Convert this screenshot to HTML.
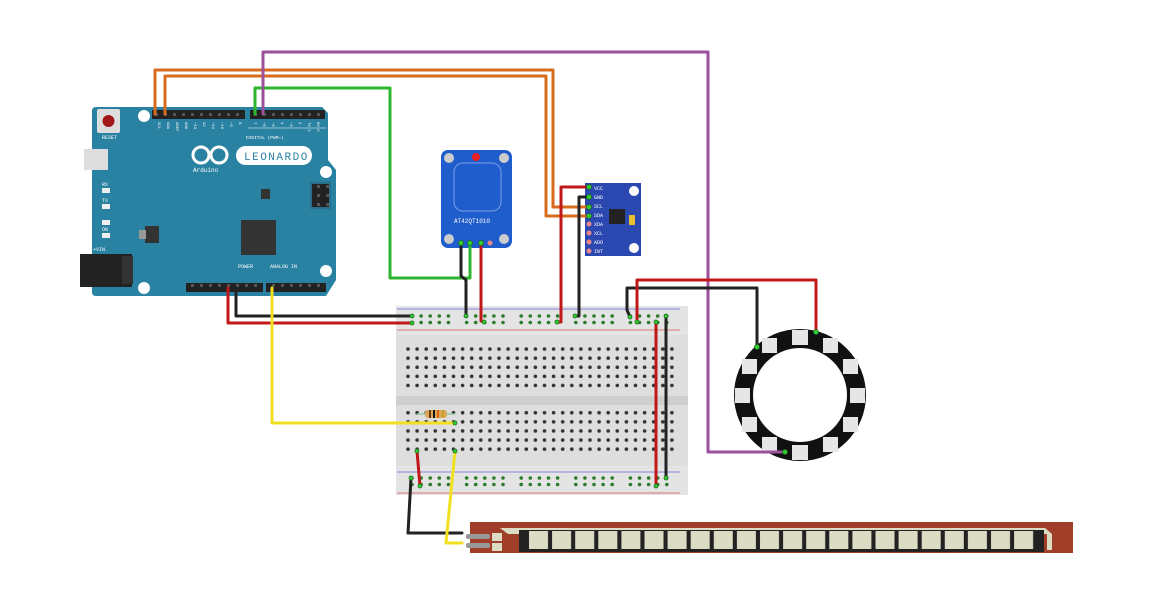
<!DOCTYPE html>
<html><head><meta charset="utf-8"><style>html,body{margin:0;padding:0;background:#fff}svg{display:block}</style></head><body>
<svg width="1158" height="606" viewBox="0 0 1158 606" xmlns="http://www.w3.org/2000/svg" font-family="Liberation Mono, monospace">
<defs>
<pattern id="holes" x="403.5" y="344.5" width="9.1" height="9.1" patternUnits="userSpaceOnUse"><circle cx="4.5" cy="4.5" r="1.8" fill="#333"/></pattern>
<pattern id="rail" x="407.5" y="311.5" width="9.1" height="6.5" patternUnits="userSpaceOnUse"><circle cx="4.5" cy="4.5" r="1.8" fill="#2a7a2a"/></pattern>
<pattern id="flex" x="527" y="530" width="23.1" height="22" patternUnits="userSpaceOnUse"><rect x="0" y="0" width="23.1" height="22" fill="#222"/><rect x="2" y="1" width="19" height="18" fill="#dcdcc4"/></pattern>
<pattern id="hdr" x="152" y="110" width="9" height="9" patternUnits="userSpaceOnUse"><rect width="9" height="9" fill="#222"/><rect x="3" y="3" width="3" height="3" fill="#555"/></pattern>
</defs>

<!-- Arduino board -->
<path d="M96 107 H322 L328 113 V160 L336 170 V280 L326 296 H96 Q92 296 92 292 V111 Q92 107 96 107Z" fill="#2a82a3"/>
<rect x="97" y="109" width="23" height="24" rx="2" fill="#ddd"/>
<circle cx="108.5" cy="121" r="6" fill="#a01818"/>
<text x="102" y="139" font-size="5" fill="#fff">RESET</text>
<rect x="84" y="149" width="24" height="21" fill="#ddd"/>
<rect x="80" y="254" width="52" height="33" fill="#222"/>
<rect x="122" y="256" width="11" height="28" fill="#333"/>
<circle cx="144" cy="116" r="6" fill="#fff"/><circle cx="144" cy="288" r="6" fill="#fff"/>
<circle cx="326" cy="172" r="6" fill="#fff"/><circle cx="326" cy="271" r="6" fill="#fff"/>
<rect x="152" y="110" width="93" height="9" fill="url(#hdr)"/>
<rect x="250" y="110" width="75" height="9" fill="url(#hdr)"/>
<rect x="186" y="283" width="77" height="9" fill="url(#hdr)"/>
<rect x="266" y="283" width="60" height="9" fill="url(#hdr)"/>
<rect x="310" y="182" width="21" height="27" fill="#2a6f8a"/>
<rect x="312" y="184" width="17" height="23" fill="url(#hdr)"/>
<g font-size="4" fill="#fff">
<text transform="translate(158,122) rotate(90)">SCL</text><text transform="translate(167,122) rotate(90)">SDA</text>
<text transform="translate(176,122) rotate(90)">AREF</text><text transform="translate(185,122) rotate(90)">GND</text>
<text transform="translate(194,122) rotate(90)">~13</text><text transform="translate(203,122) rotate(90)">12</text>
<text transform="translate(212,122) rotate(90)">~11</text><text transform="translate(221,122) rotate(90)">~10</text>
<text transform="translate(230,122) rotate(90)">~9</text><text transform="translate(239,122) rotate(90)">8</text>
<text transform="translate(254,122) rotate(90)">7</text><text transform="translate(263,122) rotate(90)">~6</text>
<text transform="translate(272,122) rotate(90)">~5</text><text transform="translate(281,122) rotate(90)">4</text>
<text transform="translate(290,122) rotate(90)">~3</text><text transform="translate(299,122) rotate(90)">2</text>
<text transform="translate(308,122) rotate(90)">TX 1</text><text transform="translate(317,122) rotate(90)">RX 0</text>
</g>
<line x1="248" y1="128" x2="326" y2="128" stroke="#fff" stroke-width="0.6"/>
<text x="246" y="139" font-size="4.5" fill="#fff">DIGITAL (PWM~)</text>
<text x="238" y="268" font-size="5" fill="#fff">POWER</text>
<text x="270" y="268" font-size="5" fill="#fff">ANALOG IN</text>
<circle cx="201" cy="155" r="8" fill="none" stroke="#fff" stroke-width="3"/>
<circle cx="219" cy="155" r="8" fill="none" stroke="#fff" stroke-width="3"/>
<text x="193" y="172" font-size="6" fill="#fff">Arduino</text>
<rect x="236" y="146" width="76" height="19" rx="9.5" fill="#fff"/>
<text x="244" y="160" font-size="11" fill="#2a82a3" letter-spacing="1.5">LEONARDO</text>
<rect x="102" y="188" width="8" height="5" fill="#eee"/><rect x="102" y="204" width="8" height="5" fill="#eee"/>
<rect x="102" y="220" width="8" height="5" fill="#eee"/><rect x="102" y="233" width="8" height="5" fill="#eee"/>
<text x="102" y="186" font-size="5" fill="#fff">RX</text><text x="102" y="202" font-size="5" fill="#fff">TX</text><text x="102" y="231" font-size="5" fill="#fff">ON</text>
<text x="93" y="251" font-size="5" fill="#fff">+VIN</text>
<rect x="145" y="226" width="14" height="17" fill="#333"/><rect x="139" y="230" width="7" height="9" fill="#999"/>
<rect x="241" y="220" width="35" height="35" fill="#333"/>
<rect x="261" y="189" width="9" height="10" fill="#333"/>

<!-- Breadboard -->
<rect x="396" y="306" width="292" height="189" fill="#e4e4e4"/>
<rect x="396" y="335" width="292" height="131" fill="#dedede"/>
<rect x="396" y="396" width="292" height="9" fill="#cfcfcf"/>
<line x1="397" y1="309" x2="680" y2="309" stroke="#6666dd" stroke-width="0.8"/>
<line x1="397" y1="330" x2="680" y2="330" stroke="#dd5555" stroke-width="0.8"/>
<line x1="397" y1="472" x2="680" y2="472" stroke="#6666dd" stroke-width="0.8"/>
<line x1="397" y1="493" x2="680" y2="493" stroke="#dd5555" stroke-width="0.8"/>
<rect x="403.5" y="344.5" width="273" height="45.5" fill="url(#holes)"/>
<rect x="403.5" y="409.5" width="273" height="45.5" fill="url(#holes)"/>
<g fill="url(#rail)">
<rect x="407.5" y="311.5" width="45.5" height="13"/><rect x="462.5" y="311.5" width="45.5" height="13"/>
<rect x="516.5" y="311.5" width="45.5" height="13"/><rect x="570.5" y="311.5" width="45.5" height="13"/>
<rect x="625.5" y="311.5" width="45.5" height="13"/>
</g>
<g fill="url(#rail)" transform="translate(0,162)">
<rect x="407.5" y="311.5" width="45.5" height="13"/><rect x="462.5" y="311.5" width="45.5" height="13"/>
<rect x="516.5" y="311.5" width="45.5" height="13"/><rect x="570.5" y="311.5" width="45.5" height="13"/>
<rect x="625.5" y="311.5" width="45.5" height="13"/>
</g>
<!-- resistor -->
<line x1="417" y1="414" x2="455" y2="414" stroke="#9c9" stroke-width="1.5"/>
<rect x="425" y="410" width="22" height="8" rx="3" fill="#d9a85a"/>
<rect x="429" y="410" width="2" height="8" fill="#6b3b10"/><rect x="433" y="410" width="2" height="8" fill="#111"/><rect x="437" y="410" width="2" height="8" fill="#e06010"/><rect x="442" y="410" width="2" height="8" fill="#c9a020"/>

<!-- Temp sensor -->
<rect x="441" y="150" width="71" height="98" rx="7" fill="#1f5ccc"/>
<rect x="454" y="163" width="47" height="48" rx="9" fill="none" stroke="#7aa0e8" stroke-width="1"/>
<circle cx="476" cy="157" r="4" fill="#e82020"/>
<circle cx="449" cy="158" r="5" fill="#ccc"/><circle cx="504" cy="158" r="5" fill="#ccc"/>
<circle cx="449" cy="239" r="5" fill="#ccc"/><circle cx="504" cy="239" r="5" fill="#ccc"/>
<text x="454" y="223" font-size="6" fill="#fff">AT42QT1010</text>
<circle cx="490" cy="243" r="2.5" fill="#e88"/>
<!-- MPU -->
<rect x="585" y="183" width="56" height="73" fill="#2b47b0"/>
<circle cx="634" cy="191" r="5" fill="#fff"/><circle cx="634" cy="248" r="5" fill="#fff"/>
<rect x="609" y="209" width="16" height="15" fill="#222"/><rect x="629" y="215" width="6" height="10" fill="#e8c030"/>
<g font-size="5" fill="#fff"><text x="594" y="190">VCC</text><text x="594" y="199">GND</text><text x="594" y="208">SCL</text><text x="594" y="217">SDA</text><text x="594" y="226">XDA</text><text x="594" y="235">XCL</text><text x="594" y="244">ADO</text><text x="594" y="253">INT</text></g>
<g fill="#e88"><circle cx="589" cy="224" r="2.5"/><circle cx="589" cy="233" r="2.5"/><circle cx="589" cy="242" r="2.5"/><circle cx="589" cy="251" r="2.5"/></g>

<!-- Ring -->
<circle cx="800" cy="395" r="66" fill="#111"/>
<circle cx="800" cy="395" r="47" fill="#fff"/>
<g fill="#e6e6e6">
<rect x="792" y="330" width="16" height="15"/><rect x="792" y="445" width="16" height="15"/>
<rect x="735" y="388" width="15" height="15"/><rect x="850" y="388" width="15" height="15"/>
<rect x="762" y="338" width="15" height="15"/><rect x="823" y="338" width="15" height="15"/>
<rect x="762" y="437" width="15" height="15"/><rect x="823" y="437" width="15" height="15"/>
<rect x="742" y="359" width="15" height="15"/><rect x="843" y="359" width="15" height="15"/>
<rect x="742" y="417" width="15" height="15"/><rect x="843" y="417" width="15" height="15"/>
</g>

<!-- Flex sensor -->
<rect x="470" y="522" width="603" height="31" fill="#a03e2a"/>
<path d="M500 528 H1045 L1052 534 V550 H1047 V534 H508Z" fill="#dcdcc4"/>
<rect x="519" y="530" width="8" height="22" fill="#222"/>
<rect x="527" y="530" width="508" height="22" fill="url(#flex)"/>
<rect x="1035" y="530" width="9" height="22" fill="#222"/>
<rect x="492" y="533" width="10" height="8" fill="#dcdcc4"/><rect x="492" y="543" width="10" height="8" fill="#dcdcc4"/>
<rect x="466" y="534" width="24" height="5" rx="2" fill="#999"/><rect x="466" y="543" width="24" height="5" rx="2" fill="#999"/>

<!-- Wires -->
<g fill="none" stroke-width="3" stroke-linejoin="round" stroke-linecap="round">
<path d="M155 114 V70 H553 V207 H588" stroke="#d86c1e"/>
<path d="M165 114 V76 H546 V216 H588" stroke="#d86c1e"/>
<path d="M255 114 V88 H390 V278 H470 V243" stroke="#2fb62f"/>
<path d="M263 114 V52 H708 V452 H785" stroke="#9c4f9a"/>
<path d="M228 288 V323 H412" stroke="#c01818"/>
<path d="M236 288 V316 H412" stroke="#222"/>
<path d="M272 288 V423 H455" stroke="#f0e020"/>
<path d="M461 243 V276 L466 280 V316" stroke="#222"/>
<path d="M481 243 V321 L484 322" stroke="#c01818"/>
<path d="M588 187 H561 V322 L557 322" stroke="#c01818"/>
<path d="M588 197 H579 V316 L575 316" stroke="#222"/>
<path d="M757 347 V288 H627 V310 L630 317" stroke="#222"/>
<path d="M816 332 V280 H637 V321" stroke="#c01818"/>
<path d="M656 322 V486" stroke="#c01818"/>
<path d="M666 316 V478" stroke="#222"/>
<path d="M417 451 L420 486" stroke="#c01818"/>
<path d="M411 478 L408 533 H462" stroke="#222"/>
<path d="M455 451 L446 543 H462" stroke="#f0e020"/>
</g>
<g fill="#3c3" stroke="#1a6a1a" stroke-width="0.8">
<circle cx="412" cy="316" r="2"/><circle cx="412" cy="323" r="2"/><circle cx="466" cy="316" r="2"/><circle cx="484" cy="322" r="2"/>
<circle cx="557" cy="322" r="2"/><circle cx="575" cy="316" r="2"/><circle cx="630" cy="317" r="2"/><circle cx="637" cy="322" r="2"/>
<circle cx="656" cy="322" r="2"/><circle cx="666" cy="316" r="2"/><circle cx="656" cy="486" r="2"/><circle cx="666" cy="478" r="2"/>
<circle cx="417" cy="451" r="2"/><circle cx="420" cy="486" r="2"/><circle cx="411" cy="478" r="2"/><circle cx="455" cy="451" r="2"/><circle cx="455" cy="423" r="2"/>
<circle cx="757" cy="347" r="2.5"/><circle cx="816" cy="332" r="2.5"/><circle cx="785" cy="452" r="2.5"/>
<circle cx="461" cy="243" r="2.5"/><circle cx="470" cy="243" r="2.5"/><circle cx="481" cy="243" r="2.5"/>
<circle cx="589" cy="187" r="2.5"/><circle cx="589" cy="197" r="2.5"/><circle cx="589" cy="207" r="2.5"/><circle cx="589" cy="216" r="2.5"/>
</g>
</svg>
</body></html>
